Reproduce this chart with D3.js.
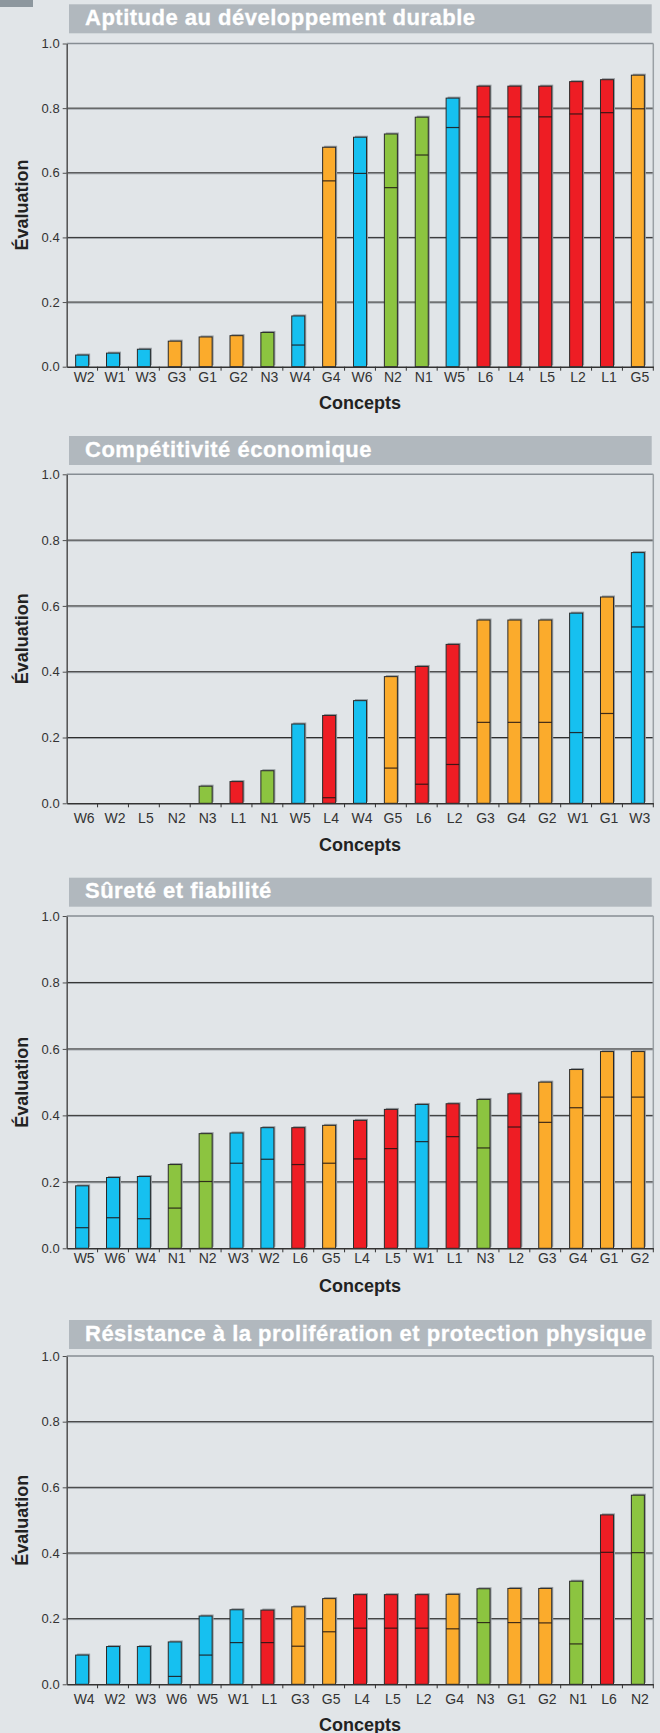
<!DOCTYPE html>
<html><head><meta charset="utf-8">
<script src="https://cdn.jsdelivr.net/npm/d3@7"></script>
<style>body{margin:0;background:#e1e5e8;} svg{display:block}</style>
</head><body>
<svg id="c" width="660" height="1733"></svg>
<script>
// ---------------- DATA ----------------
const titles = [
  "Aptitude au développement durable",
  "Compétitivité économique",
  "Sûreté et fiabilité",
  "Résistance à la prolifération et protection physique"
];
const cats1 = ["W2","W1","W3","G3","G1","G2","N3","W4","G4","W6","N2","N1","W5","L6","L4","L5","L2","L1","G5"];
const top1  = [0.036,0.042,0.054,0.079,0.092,0.096,0.106,0.157,0.679,0.710,0.720,0.772,0.831,0.868,0.868,0.868,0.882,0.888,0.902];
const base1 = [null,null,null,null,null,null,null,0.067,0.575,0.598,0.554,0.655,0.740,0.773,0.773,0.773,0.782,0.786,0.798];

const cats2 = ["W6","W2","L5","N2","N3","L1","N1","W5","L4","W4","G5","L6","L2","G3","G4","G2","W1","G1","W3"];
const top2  = [0,0,0,0,0.052,0.066,0.099,0.241,0.267,0.312,0.385,0.416,0.483,0.557,0.557,0.557,0.578,0.627,0.762];
const base2 = [null,null,null,null,null,null,null,null,0.017,null,0.107,0.058,0.118,0.246,0.246,0.246,0.215,0.273,0.536];

const cats3 = ["W5","W6","W4","N1","N2","W3","W2","L6","G5","L4","L5","W1","L1","N3","L2","G3","G4","G1","G2"];
const top3  = [0.188,0.213,0.216,0.252,0.345,0.347,0.363,0.363,0.370,0.385,0.418,0.433,0.435,0.448,0.465,0.500,0.538,0.592,0.592];
const base3 = [0.062,0.092,0.089,0.121,0.201,0.256,0.268,0.252,0.256,0.269,0.300,0.321,0.336,0.302,0.365,0.379,0.423,0.455,0.455];

const cats4 = ["W4","W2","W3","W6","W5","W1","L1","G3","G5","L4","L5","L2","G4","N3","G1","G2","N1","L6","N2"];
const top4  = [0.089,0.115,0.115,0.129,0.208,0.227,0.226,0.236,0.261,0.273,0.273,0.273,0.274,0.291,0.292,0.292,0.314,0.516,0.576];
const base4 = [null,null,null,0.024,0.089,0.127,0.127,0.116,0.160,0.171,0.171,0.171,0.169,0.188,0.188,0.187,0.123,0.402,0.401];

const yTicks = [0,0.2,0.4,0.6,0.8,1.0];
const groupKeys = ["W","G","N","L"];
const groupColors = ["#16c0f0","#fbab2c","#8cc440","#ee1d24"];
const yLabel = "Évaluation";
const xLabel = "Concepts";

// ---------------- LAYOUT ----------------
const layout = [
  {titleTop:4.3,   plotTop:43.5,  plotBottom:366.7,  lab:5,  con:42.6},
  {titleTop:436,   plotTop:474.3, plotBottom:803.3,  lab:10, con:48},
  {titleTop:877.7, plotTop:916,   plotBottom:1248.3, lab:5,  con:43.4},
  {titleTop:1320,  plotTop:1356,  plotBottom:1684.3, lab:10, con:47}
];
const datasets = [[cats1,top1,base1],[cats2,top2,base2],[cats3,top3,base3],[cats4,top4,base4]];
const L = 66.7, R = 653.3, BAR = 13;
const FONT = "'Liberation Sans', Arial, Helvetica, sans-serif";

const color = d3.scaleOrdinal().domain(groupKeys).range(groupColors);
const svg = d3.select("#c");
svg.append("rect").attr("width",660).attr("height",1733).attr("fill","#e1e5e8");
svg.append("rect").attr("x",0).attr("y",0).attr("width",33).attr("height",7).attr("fill","#8d979e");

datasets.forEach(([cats, tops, bases], i) => {
  const lo = layout[i];
  const g = svg.append("g");
  const x = d3.scaleBand().domain(cats).range([L, R]).padding(0);
  const y = d3.scaleLinear().domain([0,1]).range([lo.plotBottom, lo.plotTop]);

  // title bar
  g.append("rect").attr("x",69).attr("y",lo.titleTop).attr("width",582.7).attr("height",29).attr("fill","#b1b8be");
  g.append("text").attr("x",85).attr("y",lo.titleTop+20.5)
    .attr("font-family",FONT).attr("font-weight","bold").attr("font-size",22)
    .attr("letter-spacing",0.5).attr("fill","#fff").attr("stroke","#fff").attr("stroke-width",0.3)
    .text(titles[i]);

  // gridlines
  yTicks.filter(t => t>0 && t<1).forEach(t => {
    g.append("line").attr("x1",L).attr("x2",R).attr("y1",y(t)+1).attr("y2",y(t)+1).attr("stroke","#9aa0a5").attr("stroke-width",1);
    g.append("line").attr("x1",L).attr("x2",R).attr("y1",y(t)).attr("y2",y(t)).attr("stroke","#2e2e2e").attr("stroke-width",1);
  });
  // top & right frame
  g.append("line").attr("x1",L).attr("x2",R).attr("y1",y(1)).attr("y2",y(1)).attr("stroke","#868d93").attr("stroke-width",1.5);
  g.append("line").attr("x1",R).attr("x2",R).attr("y1",y(1)).attr("y2",y(0)).attr("stroke","#9aa0a5").attr("stroke-width",1.5);

  // bars
  const rows = cats.map((c,k) => ({c, t:tops[k], b:bases[k]})).filter(d => d.t > 0);
  const bx = d => x(d.c) + (x.bandwidth()-BAR)/2;
  g.selectAll(".sh").data(rows).join("rect")
    .attr("x", d => bx(d)+1.5).attr("y", d => y(d.t)-1.5)
    .attr("width", BAR).attr("height", d => y(0)-y(d.t))
    .attr("fill","#949a9f");
  g.selectAll(".bar").data(rows).join("rect")
    .attr("x", bx).attr("y", d => y(d.t))
    .attr("width", BAR).attr("height", d => y(0)-y(d.t))
    .attr("fill", d => color(d.c[0]))
    .attr("stroke","#2a2a2a").attr("stroke-width",1);
  g.selectAll(".split").data(rows.filter(d => d.b !== null)).join("line")
    .attr("x1", bx).attr("x2", d => bx(d)+BAR)
    .attr("y1", d => y(d.b)).attr("y2", d => y(d.b))
    .attr("stroke","rgba(30,20,20,0.85)").attr("stroke-width",1.2);

  // y axis
  const ya = g.append("g").attr("transform",`translate(${L},0)`)
    .call(d3.axisLeft(y).tickValues(yTicks).tickFormat(d3.format(".1f")).tickSize(4).tickSizeOuter(0).tickPadding(3));
  ya.select(".domain").attr("stroke","#505050").attr("stroke-width",1.5);
  ya.selectAll(".tick line").attr("stroke","#505050");
  ya.selectAll("text").attr("font-family",FONT).attr("font-size",13).attr("fill","#333");

  // x axis
  const xa = g.append("g").attr("transform",`translate(0,${y(0)})`)
    .call(d3.axisBottom(x).tickSize(0).tickSizeOuter(0).tickPadding(lo.lab));
  xa.select(".domain").attr("stroke","#333").attr("stroke-width",1.5);
  xa.selectAll("text").attr("font-family",FONT).attr("font-size",14).attr("fill","#333").attr("dx",2);
  const bounds = cats.map(c => x(c)).concat([x.range()[1]]);
  g.selectAll(".xt").data(bounds.slice(1)).join("line")
    .attr("x1", d => d).attr("x2", d => d).attr("y1", y(0)).attr("y2", y(0)+4)
    .attr("stroke","#333").attr("stroke-width",1);

  // axis titles
  g.append("text").attr("transform",`translate(28,${(y(0)+y(1))/2}) rotate(-90)`)
    .attr("text-anchor","middle").attr("font-family",FONT).attr("font-weight","bold")
    .attr("font-size",18).attr("fill","#222").text(yLabel);
  g.append("text").attr("x",(L+R)/2).attr("y",y(0)+lo.con)
    .attr("text-anchor","middle").attr("font-family",FONT).attr("font-weight","bold")
    .attr("font-size",18).attr("fill","#222").text(xLabel);
});
</script>
</body></html>
